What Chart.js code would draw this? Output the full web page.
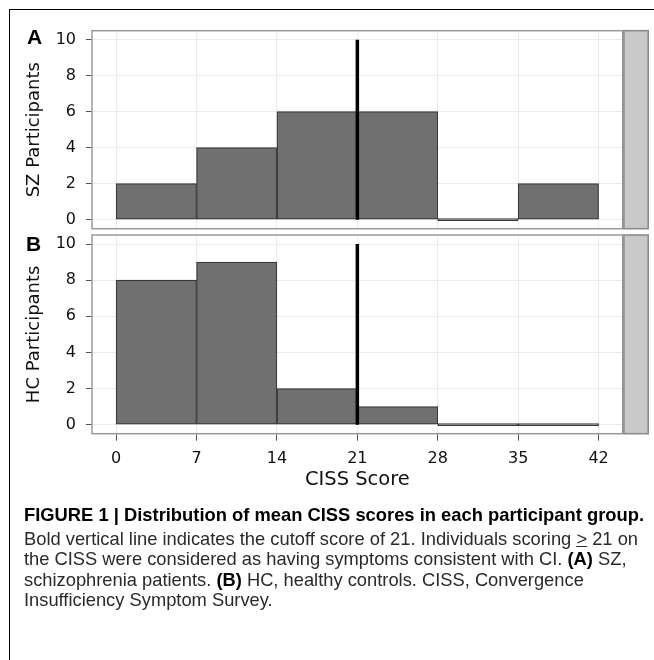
<!DOCTYPE html>
<html>
<head>
<meta charset="utf-8">
<script src="https://cdn.jsdelivr.net/npm/chart.js@4"></script>
<style>
  html, body { margin: 0; padding: 0; background: #fff; }
  body { width: 654px; height: 660px; position: relative; overflow: hidden; }
  #frame { position: absolute; left: 9px; top: 9px; width: 700px; height: 700px;
           border-left: 1.5px solid #000; border-top: 1.5px solid #000; }
  canvas { position: absolute; left: 0; }
  .plab { position: absolute; font-family: "Liberation Sans", Arial, sans-serif; font-weight: bold;
          font-size: 21px; color: #000; }
  #caption { position: absolute; left: 24px; top: 505px;
             font-family: "Liberation Sans", Arial, sans-serif;
             font-size: 18.5px; color: #2a2a2a; }
  #caption .ln { white-space: nowrap; transform-origin: 0 50%; height: 20.6px; line-height: 20.6px; }
  #caption .ln span { display: inline-block; }
  #caption .t { font-weight: bold; color: #000; margin-bottom: 3px; }
</style>
</head>
<body>
<div id="frame"></div>
<canvas id="cA" width="654" height="250" style="top:0px"></canvas>
<canvas id="cB" width="654" height="288" style="top:212px"></canvas>
<div class="plab" style="left:27px; top:25px;">A</div>
<div class="plab" style="left:26px; top:232px;">B</div>
<div id="caption">
  <div class="ln t"><span>FIGURE 1 | Distribution of mean CISS scores in each participant group.</span></div>
  <div class="ln b"><span>Bold vertical line indicates the cutoff score of 21. Individuals scoring <u>&gt;</u> 21 on</span></div>
  <div class="ln b"><span>the CISS were considered as having symptoms consistent with CI. <b style="color:#000">(A)</b> SZ,</span></div>
  <div class="ln b"><span>schizophrenia patients. <b style="color:#000">(B)</b> HC, healthy controls. CISS, Convergence</span></div>
  <div class="ln b"><span>Insufficiency Symptom Survey.</span></div>
</div>
<script>
// ---- data ----
const binCenters = [3.5, 10.5, 17.5, 24.5, 31.5, 38.5];
const szCounts = [2, 4, 6, 6, 0, 2];
const hcCounts = [8, 9, 2, 1, 0, 0];
const xTicks = [0, 7, 14, 21, 28, 35, 42];
const yTicks = [0, 2, 4, 6, 8, 10];
const cutoffX = [21, 21];
const cutoffY = [0, 10];
const yTitles = ["SZ Participants", "HC Participants"];
const xTitle = "CISS Score";

const FONT = "'DejaVu Sans', sans-serif";

// condense caption lines (narrow typeface look)
(function () {
  const lines = document.querySelectorAll('#caption .ln');
  const tW = lines[0].firstElementChild.getBoundingClientRect().width;
  const bW = lines[1].firstElementChild.getBoundingClientRect().width;
  const sT = 620 / tW, sB = 614 / bW;
  lines.forEach((ln, i) => { ln.style.transform = 'scaleX(' + (i === 0 ? sT : sB) + ')'; });
})();

const panelPlugin = {
  id: 'panelDeco',
  afterDatasetsDraw(chart) {
    const {ctx, chartArea: a} = chart;
    ctx.save();
    ctx.strokeStyle = '#9a9a9a';
    ctx.lineWidth = 1.5;
    ctx.strokeRect(a.left, a.top, a.right - a.left, a.bottom - a.top);
    const sx = a.right + 1.2, sw = 24.3;
    ctx.fillStyle = '#c9c9c9';
    ctx.fillRect(sx, a.top, sw, a.bottom - a.top);
    ctx.strokeStyle = '#8c8c8c';
    ctx.lineWidth = 1.6;
    ctx.strokeRect(sx, a.top, sw, a.bottom - a.top);
    ctx.restore();
  }
};

function makeChart(id, counts, yTitle, showX, padding) {
  return new Chart(document.getElementById(id), {
    type: 'bar',
    data: {
      datasets: [
        {
          type: 'line',
          data: cutoffX.map((x, i) => ({x: x, y: cutoffY[i]})),
          borderColor: '#000',
          borderWidth: 3.5,
          pointRadius: 0,
          order: 0,
          borderCapStyle: 'butt'
        },
        {
          type: 'bar',
          data: binCenters.map((x, i) => ({x: x, y: counts[i]})),
          backgroundColor: '#707070',
          borderColor: '#383838',
          borderWidth: 1.2,
          borderSkipped: false,
          minBarLength: 2,
          barPercentage: 1,
          categoryPercentage: 1,
          order: 1
        }
      ]
    },
    options: {
      responsive: false,
      animation: false,
      devicePixelRatio: 1,
      layout: { padding: padding },
      plugins: { legend: { display: false }, tooltip: { enabled: false } },
      scales: {
        x: {
          type: 'linear',
          min: -2.1, max: 44.1,
          offset: false,
          afterBuildTicks: s => { s.ticks = xTicks.map(v => ({value: v})); },
          afterFit: s => { s.height = showX ? 66.3 : 0; },
          grid: { color: '#ebebeb', lineWidth: 1, offset: false, drawTicks: showX, tickLength: 7, tickColor: '#555' },
          border: { display: false },
          ticks: { display: showX, padding: 9, color: '#111', font: { family: FONT, size: 16 }, maxRotation: 0 },
          title: { display: showX, text: xTitle, color: '#111', font: { family: FONT, size: 19.5 }, padding: { top: 0, bottom: 8.4 } }
        },
        y: {
          type: 'linear',
          min: -0.5, max: 10.5,
          afterBuildTicks: s => { s.ticks = yTicks.map(v => ({value: v})); },
          afterFit: s => { s.width = 92; },
          grid: { color: '#ebebeb', lineWidth: 1, drawTicks: true, tickLength: 6, tickColor: '#555' },
          border: { display: false },
          ticks: { padding: 10, color: '#111', font: { family: FONT, size: 16 } },
          title: { display: true, text: yTitle, color: '#111', font: { family: FONT, size: 18 }, padding: { top: 24, bottom: 0 } }
        }
      }
    },
    plugins: [panelPlugin]
  });
}

makeChart('cA', szCounts, yTitles[0], false, {top: 30.7, right: 31.3, bottom: 21.3, left: 0});
makeChart('cB', hcCounts, yTitles[1], true, {top: 23, right: 31.3, bottom: 0, left: 0});
</script>
</body>
</html>
